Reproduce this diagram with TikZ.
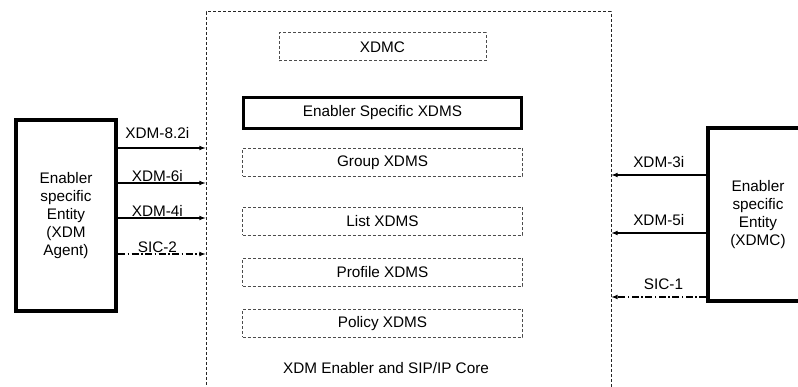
\documentclass[tikz,border=0pt]{standalone}
\usepackage{fontspec}
\setmainfont{Liberation Sans}
\usepackage{tikz}
\usetikzlibrary{arrows.meta}
\usetikzlibrary{shapes,arrows,positioning}
\tikzset{>=latex}
\tikzset{every node/.style={font=\fontsize{15.3}{18}\selectfont}}
\tikzset{entity-node/.style={draw, line width=4pt, align=center, inner sep=0, minimum width=100pt}}
\tikzset{core-box/.style={draw=black!85, dash pattern=on 3pt off 2pt, line width=1pt, inner sep=0}}
\tikzset{xdms-box/.style={draw=black!70, dash pattern=on 3pt off 2pt, line width=1pt, inner sep=0, minimum width=280pt, minimum height=28pt}}
\tikzset{special-box/.style={draw, line width=3pt, inner sep=0, minimum width=278pt, minimum height=31pt}}
\tikzset{iface-line/.style={->, line width=1.1pt}}
\tikzset{sic-line/.style={iface-line, dash pattern=on 7pt off 2.5pt on 1.5pt off 2.5pt}}
\tikzset{iface-label/.style={inner sep=0}}

\begin{document}
\begin{tikzpicture}[x=1pt, y=-1pt]
    \useasboundingbox (0,0) rectangle (798,387);
    \clip (0,0) rectangle (798,387);

    \node[core-box, minimum width=405pt, minimum height=400pt] (core) at (408.5,212) {};
    \node[entity-node, minimum height=191pt] (agent) at (66,215.5)
        {Enabler\\specific\\Entity\\(XDM\\Agent)};
    \node[entity-node, minimum height=173pt] (client) at (758,214.5)
        {Enabler\\specific\\Entity\\(XDMC)};

    \node[xdms-box, minimum width=207pt] (xdmc) at (382.5,47) {XDMC};
    \node[special-box] (specific) at (382.5,113) {Enabler Specific XDMS};
    \node[xdms-box, below=18pt of specific.south] (group) {Group XDMS};
    \node[xdms-box, below=30pt of group] (list) {List XDMS};
    \node[xdms-box, below=22pt of list] (profile) {Profile XDMS};
    \node[xdms-box, below=22pt of profile] (policy) {Policy XDMS};
    \node (corelabel) at (386,368) {XDM Enabler and SIP/IP Core};

    \draw[iface-line] (agent.east |- 0,148) -- (core.west |- 0,148)
        node[iface-label, pos=0.45, above=9pt] (l82) {XDM-8.2i};
    \draw[iface-line] (agent.east |- 0,183) -- (core.west |- 0,183)
        node[iface-label, pos=0.45, above=0.5pt] (l6) {XDM-6i};
    \draw[iface-line] (agent.east |- 0,218) -- (core.west |- 0,218)
        node[iface-label, pos=0.45, above=0.5pt] (l4) {XDM-4i};
    \draw[sic-line] (agent.east |- 0,254) -- (core.west |- 0,254)
        node[iface-label, pos=0.45, above=0.5pt] (ls2) {SIC-2};

    \draw[iface-line] (client.west |- 0,175) -- (core.east |- 0,175)
        node[iface-label, midway, above=7pt] (l3) {XDM-3i};
    \draw[iface-line] (client.west |- 0,233) -- (core.east |- 0,233)
        node[iface-label, midway, above=7pt] (l5) {XDM-5i};
    \draw[sic-line] (client.west |- 0,297) -- (core.east |- 0,297)
        node[iface-label, pos=0.45, above=7pt] (ls1) {SIC-1};
\end{tikzpicture}
\end{document}
